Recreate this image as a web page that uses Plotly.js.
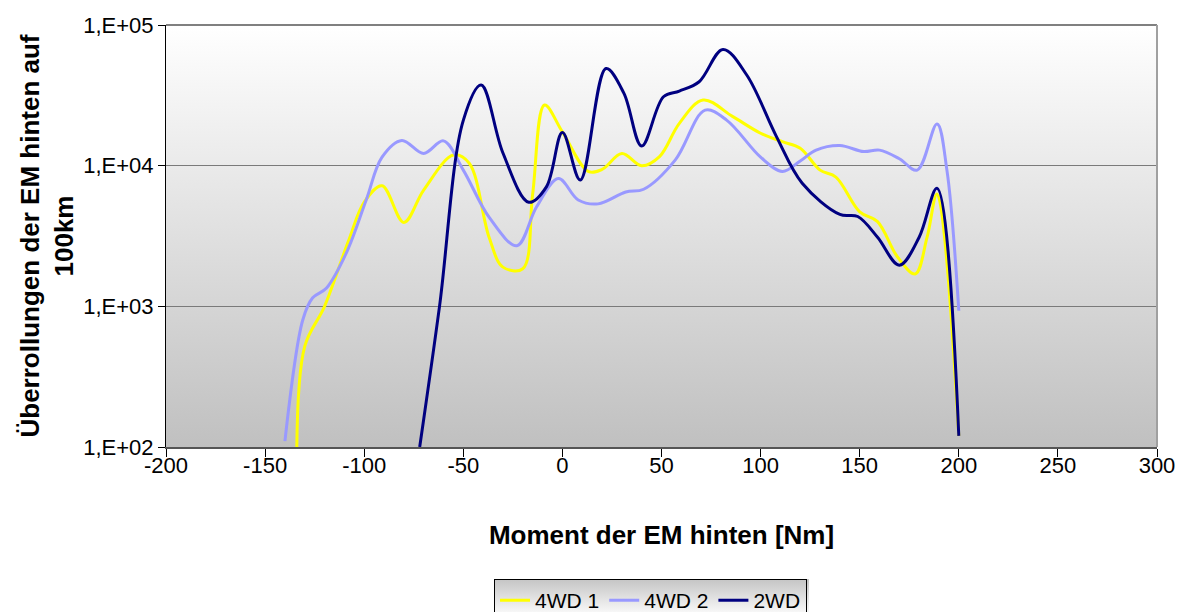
<!DOCTYPE html>
<html>
<head>
<meta charset="utf-8">
<script src="https://cdn.plot.ly/plotly-3.0.1.min.js"></script>
<style>
  html, body { margin: 0; padding: 0; background: #ffffff; }
  #chart { width: 1184px; height: 612px; }
</style>
</head>
<body>
<div id="chart"></div>
<script>
// Torque of the rear e-machine [Nm] vs. rollover count per 100 km
const seriesNames = ['4WD 1', '4WD 2', '2WD'];

const torque4wd1 = [-134, -130, -120, -108, -100, -91, -80, -70, -55, -47, -37, -30, -20, -15, -9, 0, 13, 20, 30, 40, 49, 59, 71, 86, 100, 111, 120, 130, 138, 150, 159, 169, 178, 184, 189, 200];
const count4wd1  = [100, 520, 1000, 2900, 5500, 7200, 3950, 6700, 11900, 10400, 3100, 1900, 1850, 6300, 27000, 17400, 9100, 9400, 12200, 10000, 11600, 20000, 29300, 22300, 17000, 14800, 13300, 9300, 8300, 4700, 4000, 2250, 1700, 3100, 6300, 120];

const torque4wd2 = [-140, -131, -126, -119, -109, -99, -91, -81, -70, -60, -50, -37, -23, -13, -2, 8, 18, 32, 41, 57, 72, 83, 100, 111, 120, 128, 140, 152, 160, 170, 179, 189, 194, 200];
const count4wd2  = [110, 800, 1150, 1350, 2400, 5700, 11500, 15100, 12200, 15000, 9300, 4300, 2700, 5100, 8100, 5700, 5350, 6500, 6800, 11000, 24800, 21000, 11500, 9100, 10800, 12900, 13900, 12600, 12900, 11200, 9300, 19800, 9300, 930];

const torque2wd = [-72, -62, -50, -41, -30, -17, -8, 0, 9, 22, 31, 40, 51, 59, 69, 81, 93, 108, 121, 140, 149, 159, 170, 180, 189, 200];
const count2wd  = [100, 1000, 21000, 37400, 12300, 5500, 7100, 17200, 7900, 49000, 32800, 13800, 30900, 33900, 39500, 67000, 44100, 16100, 7500, 4500, 4350, 3100, 1960, 3100, 6900, 120];

const xTickVals = [-200, -150, -100, -50, 0, 50, 100, 150, 200, 250, 300];
const xTickText = ['-200', '-150', '-100', '-50', '0', '50', '100', '150', '200', '250', '300'];
const yTickVals = [100, 1000, 10000, 100000];
const yTickText = ['1,E+02', '1,E+03', '1,E+04', '1,E+05'];

const lineColors = ['#ffff00', '#9999ff', '#000080'];

function gradientUri(top, bottom) {
  const svg = '<svg xmlns="http://www.w3.org/2000/svg" width="100" height="100" preserveAspectRatio="none">' +
    '<defs><linearGradient id="g" x1="0" y1="0" x2="0" y2="1">' +
    '<stop offset="0" stop-color="' + top + '"/><stop offset="1" stop-color="' + bottom + '"/>' +
    '</linearGradient></defs><rect width="100" height="100" fill="url(#g)"/></svg>';
  return 'data:image/svg+xml;charset=utf-8,' + encodeURIComponent(svg);
}

const xs = [torque4wd1, torque4wd2, torque2wd];
const ys = [count4wd1, count4wd2, count2wd];

const traces = seriesNames.map((name, i) => ({
  type: 'scatter',
  mode: 'lines',
  name: name,
  x: xs[i],
  y: ys[i],
  line: { color: lineColors[i], width: 3, shape: 'spline', smoothing: 1 },
  hoverinfo: 'x+y+name'
}));

const fam = 'Liberation Sans, Arial, sans-serif';
const tickFont = { family: fam, size: 22, color: '#000000' };
const titleFont = { family: fam, size: 26, color: '#000000', weight: 'bold' };

const layout = {
  width: 1184,
  height: 612,
  margin: { l: 166, r: 27, t: 25, b: 165, autoexpand: false },
  paper_bgcolor: '#ffffff',
  plot_bgcolor: 'rgba(0,0,0,0)',
  showlegend: true,
  legend: {
    orientation: 'h',
    x: 0.331, y: -0.313, xanchor: 'left', yanchor: 'top',
    bgcolor: 'rgba(0,0,0,0)',
    bordercolor: '#000000', borderwidth: 1,
    font: { family: fam, size: 21, color: '#000000' },
    itemwidth: 30,
    tracegroupgap: 0
  },
  xaxis: {
    range: [-200, 300],
    tickmode: 'array', tickvals: xTickVals, ticktext: xTickText,
    ticks: 'outside', ticklen: 8, tickcolor: '#000000', tickwidth: 1,
    ticklabelstandoff: -10,
    showline: true, linecolor: '#555555', linewidth: 2,
    showgrid: false, zeroline: false,
    tickfont: tickFont,
    title: { text: '<b>Moment der EM hinten [Nm]</b>', font: titleFont, standoff: 48 }
  },
  yaxis: {
    type: 'log',
    range: [2, 5],
    tickmode: 'array', tickvals: yTickVals, ticktext: yTickText,
    ticks: 'outside', ticklen: 7, tickcolor: '#000000', tickwidth: 1,
    showline: true, linecolor: '#000000', linewidth: 1,
    showgrid: true, gridcolor: '#7a7a7a', gridwidth: 1.5,
    zeroline: false,
    tickfont: tickFont,
    title: { text: '<b>Überrollungen der EM hinten auf<br>100km</b>', font: titleFont, standoff: 2 }
  },
  images: [
    {
      source: gradientUri('#ffffff', '#c0c0c0'),
      xref: 'paper', yref: 'paper',
      x: 0, y: 1, sizex: 1, sizey: 1,
      xanchor: 'left', yanchor: 'top',
      sizing: 'stretch', layer: 'below'
    },
    {
      source: gradientUri('#c4c4c4', '#ffffff'),
      xref: 'paper', yref: 'paper',
      x: 0.331, y: -0.313, sizex: 0.318, sizey: 0.09,
      xanchor: 'left', yanchor: 'top',
      sizing: 'stretch', layer: 'below'
    }
  ],
  shapes: [
    { type: 'line', xref: 'paper', yref: 'paper', x0: 0, x1: 1, y0: 1, y1: 1, line: { color: '#808080', width: 2 } },
    { type: 'line', xref: 'paper', yref: 'paper', x0: 1, x1: 1, y0: 0, y1: 1, line: { color: '#a0a0a0', width: 2 } }
  ]
};

Plotly.newPlot('chart', traces, layout, { displayModeBar: false, staticPlot: true });
</script>
</body>
</html>
